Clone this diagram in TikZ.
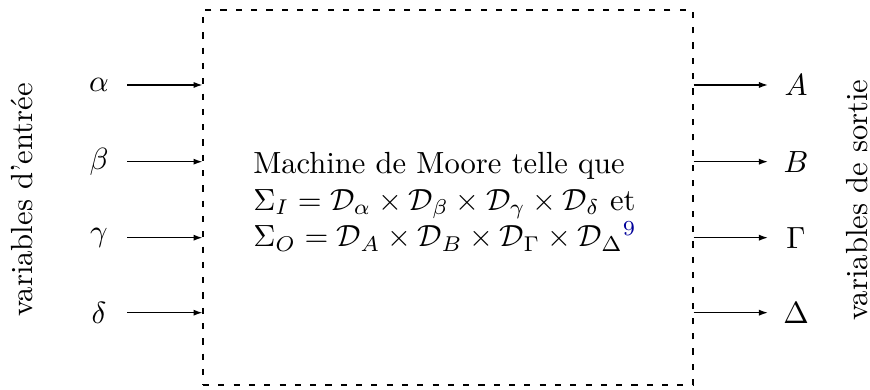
\documentclass[tikz,border=0pt]{standalone}
\usepackage{amsmath}
\usepackage{amssymb}
\usepackage{tikz}
\usetikzlibrary{arrows.meta}
\usepackage{xcolor}
\definecolor{footblue}{rgb}{0,0,0.6}

\begin{document}
\begin{tikzpicture}[x=0.3268pt, y=0.3268pt,
    varlabel/.style={minimum width=18pt, inner sep=0pt},
    sidelabel/.style={rotate=90}]
  \useasboundingbox (0,0) rectangle (870,390);

  % --- Moore machine box ---
  \node[draw, dash pattern=on 2pt off 3pt, minimum width=160.1pt,
        minimum height=122.5pt] (moore) at (448,192.5) {};
  \node[align=left] (moore-text) at ([xshift=-1pt, yshift=-1.4pt]moore.center)
    {Machine de Moore telle que\\
     $\Sigma_I = \mathcal{D}_\alpha \times \mathcal{D}_\beta \times
       \mathcal{D}_\gamma \times \mathcal{D}_\delta$ et\\
     $\Sigma_O = \mathcal{D}_A \times \mathcal{D}_B \times
       \mathcal{D}_\Gamma \times \mathcal{D}_\Delta$\textsuperscript{\textcolor{footblue}{9}}};

  % --- input variables ---
  \foreach \name/\lab/\y in {alpha/\alpha/305, beta/\beta/228.3,
                             gamma/\gamma/152.3, delta/\delta/77.3} {
    \node[varlabel] (in-\name) at (99,\y) {$\lab$};
    \draw[-{Latex[length=2.9pt, width=2pt]}] (in-\name) -- (in-\name -| moore.west);
  }

  % --- output variables ---
  \foreach \name/\lab/\y in {A/A/305, B/B/228.3,
                             Gamma/\Gamma/152.3, Delta/\Delta/77.3} {
    \node[varlabel] (out-\name) at (796,\y) {$\lab$};
    \draw[-{Latex[length=2.9pt, width=2pt]}] (out-\name -| moore.east) -- (out-\name);
  }

  % --- side captions ---
  \node[sidelabel] (inputs) at (22,190) {variables d'entrée};
  \node[sidelabel] (outputs) at (857,190) {variables de sortie};
\end{tikzpicture}
\end{document}
